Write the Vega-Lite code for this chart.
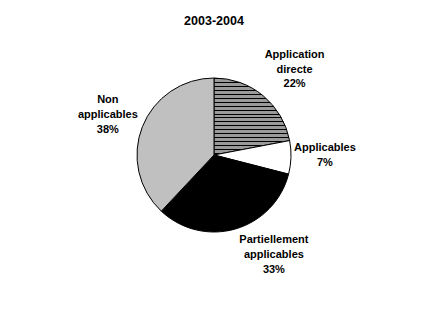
{
  "$schema": "https://vega.github.io/schema/vega-lite/v6.json",
  "autosize": {"type": "none"},
  "width": 428,
  "height": 230,
  "padding": {"left": 0, "top": 40, "right": 4, "bottom": 49},
  "background": "white",
  "title": {"text": "2003-2004", "font": "Liberation Sans", "fontSize": 12.5, "fontWeight": "bold", "color": "black", "offset": 13},
  "config": {"view": {"stroke": null}},
  "data": {"values": [
    {"cat": "Application directe", "label": "Application|directe|22%", "pct": 22, "ord": 1},
    {"cat": "Applicables", "label": "Applicables|7%", "pct": 7, "ord": 2},
    {"cat": "Partiellement applicables", "label": "Partiellement|applicables|33%", "pct": 33, "ord": 3},
    {"cat": "Non applicables", "label": "Non|applicables|38%", "pct": 38, "ord": 4}
  ]},
  "transform": [
    {"stack": "pct", "groupby": [], "sort": [{"field": "ord", "order": "ascending"}], "as": ["t0", "t1"]},
    {"calculate": "(datum.t0 + datum.t1) / 2", "as": "tmid"}
  ],
  "layer": [
    {
      "mark": {"type": "arc", "outerRadius": 77, "stroke": "black", "strokeWidth": 1},
      "encoding": {
        "theta": {"field": "t0", "type": "quantitative", "scale": {"domain": [0, 100]}},
        "theta2": {"field": "t1"},
        "fill": {
          "condition": {"test": "datum.cat === 'Application directe'", "value": {
            "gradient": "linear", "x1": 0, "y1": 0, "x2": 0, "y2": 1,
            "stops": [
              {"offset": 0.0, "color": "black"}, {"offset": 0.0128, "color": "black"}, {"offset": 0.0128, "color": "#9a9a9a"}, {"offset": 0.0513, "color": "#9a9a9a"},
              {"offset": 0.0513, "color": "black"}, {"offset": 0.0641, "color": "black"}, {"offset": 0.0641, "color": "#9a9a9a"}, {"offset": 0.1026, "color": "#9a9a9a"},
              {"offset": 0.1026, "color": "black"}, {"offset": 0.1154, "color": "black"}, {"offset": 0.1154, "color": "#9a9a9a"}, {"offset": 0.1538, "color": "#9a9a9a"},
              {"offset": 0.1538, "color": "black"}, {"offset": 0.1667, "color": "black"}, {"offset": 0.1667, "color": "#9a9a9a"}, {"offset": 0.2051, "color": "#9a9a9a"},
              {"offset": 0.2051, "color": "black"}, {"offset": 0.2179, "color": "black"}, {"offset": 0.2179, "color": "#9a9a9a"}, {"offset": 0.2564, "color": "#9a9a9a"},
              {"offset": 0.2564, "color": "black"}, {"offset": 0.2692, "color": "black"}, {"offset": 0.2692, "color": "#9a9a9a"}, {"offset": 0.3077, "color": "#9a9a9a"},
              {"offset": 0.3077, "color": "black"}, {"offset": 0.3205, "color": "black"}, {"offset": 0.3205, "color": "#9a9a9a"}, {"offset": 0.359, "color": "#9a9a9a"},
              {"offset": 0.359, "color": "black"}, {"offset": 0.3718, "color": "black"}, {"offset": 0.3718, "color": "#9a9a9a"}, {"offset": 0.4103, "color": "#9a9a9a"},
              {"offset": 0.4103, "color": "black"}, {"offset": 0.4231, "color": "black"}, {"offset": 0.4231, "color": "#9a9a9a"}, {"offset": 0.4615, "color": "#9a9a9a"},
              {"offset": 0.4615, "color": "black"}, {"offset": 0.4744, "color": "black"}, {"offset": 0.4744, "color": "#9a9a9a"}, {"offset": 0.5128, "color": "#9a9a9a"},
              {"offset": 0.5128, "color": "black"}, {"offset": 0.5256, "color": "black"}, {"offset": 0.5256, "color": "#9a9a9a"}, {"offset": 0.5641, "color": "#9a9a9a"},
              {"offset": 0.5641, "color": "black"}, {"offset": 0.5769, "color": "black"}, {"offset": 0.5769, "color": "#9a9a9a"}, {"offset": 0.6154, "color": "#9a9a9a"},
              {"offset": 0.6154, "color": "black"}, {"offset": 0.6282, "color": "black"}, {"offset": 0.6282, "color": "#9a9a9a"}, {"offset": 0.6667, "color": "#9a9a9a"},
              {"offset": 0.6667, "color": "black"}, {"offset": 0.6795, "color": "black"}, {"offset": 0.6795, "color": "#9a9a9a"}, {"offset": 0.7179, "color": "#9a9a9a"},
              {"offset": 0.7179, "color": "black"}, {"offset": 0.7308, "color": "black"}, {"offset": 0.7308, "color": "#9a9a9a"}, {"offset": 0.7692, "color": "#9a9a9a"},
              {"offset": 0.7692, "color": "black"}, {"offset": 0.7821, "color": "black"}, {"offset": 0.7821, "color": "#9a9a9a"}, {"offset": 0.8205, "color": "#9a9a9a"},
              {"offset": 0.8205, "color": "black"}, {"offset": 0.8333, "color": "black"}, {"offset": 0.8333, "color": "#9a9a9a"}, {"offset": 0.8718, "color": "#9a9a9a"},
              {"offset": 0.8718, "color": "black"}, {"offset": 0.8846, "color": "black"}, {"offset": 0.8846, "color": "#9a9a9a"}, {"offset": 0.9231, "color": "#9a9a9a"},
              {"offset": 0.9231, "color": "black"}, {"offset": 0.9359, "color": "black"}, {"offset": 0.9359, "color": "#9a9a9a"}, {"offset": 0.9744, "color": "#9a9a9a"},
              {"offset": 0.9744, "color": "black"}, {"offset": 0.9872, "color": "black"}, {"offset": 0.9872, "color": "#9a9a9a"}, {"offset": 1.0, "color": "#9a9a9a"}
            ]
          }},
          "field": "cat",
          "type": "nominal",
          "legend": null,
          "scale": {
            "domain": ["Application directe", "Applicables", "Partiellement applicables", "Non applicables"],
            "range": ["#9a9a9a", "#ffffff", "#000000", "#c0c0c0"]
          }
        }
      }
    },
    {
      "transform": [{"filter": "datum.cat === 'Application directe'"}],
      "mark": {"type": "text", "radius": 128, "dx": -1, "dy": -1, "font": "Liberation Sans", "fontSize": 11, "fontWeight": "bold", "color": "black", "lineBreak": "|", "lineHeight": 14.5, "align": "center", "baseline": "middle"},
      "encoding": {
        "theta": {"field": "tmid", "type": "quantitative"},
        "text": {"field": "label", "type": "nominal"}
      }
    },
    {
      "transform": [{"filter": "datum.cat === 'Applicables'"}],
      "mark": {"type": "text", "radius": 111, "dx": 0, "dy": -10, "font": "Liberation Sans", "fontSize": 11, "fontWeight": "bold", "color": "black", "lineBreak": "|", "lineHeight": 15, "align": "center", "baseline": "middle"},
      "encoding": {
        "theta": {"field": "tmid", "type": "quantitative"},
        "text": {"field": "label", "type": "nominal"}
      }
    },
    {
      "transform": [{"filter": "datum.cat === 'Partiellement applicables'"}],
      "mark": {"type": "text", "radius": 100, "dx": 32, "dy": -11.5, "font": "Liberation Sans", "fontSize": 11, "fontWeight": "bold", "color": "black", "lineBreak": "|", "lineHeight": 15, "align": "center", "baseline": "middle"},
      "encoding": {
        "theta": {"field": "tmid", "type": "quantitative"},
        "text": {"field": "label", "type": "nominal"}
      }
    },
    {
      "transform": [{"filter": "datum.cat === 'Non applicables'"}],
      "mark": {"type": "text", "radius": 112, "dx": -2, "dy": -14, "font": "Liberation Sans", "fontSize": 11, "fontWeight": "bold", "color": "black", "lineBreak": "|", "lineHeight": 15, "align": "center", "baseline": "middle"},
      "encoding": {
        "theta": {"field": "tmid", "type": "quantitative"},
        "text": {"field": "label", "type": "nominal"}
      }
    }
  ]
}
